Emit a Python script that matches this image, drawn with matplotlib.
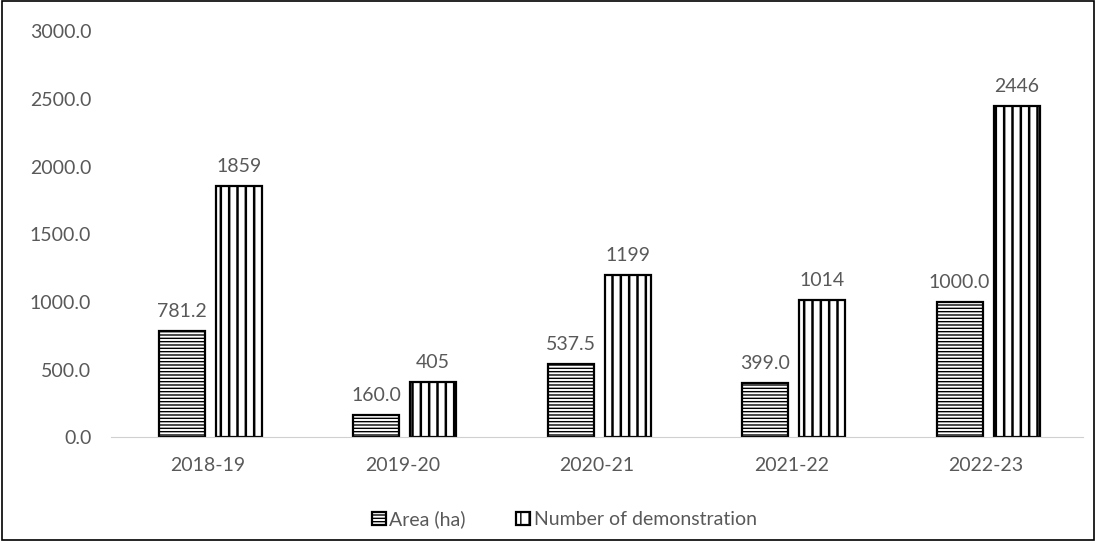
import matplotlib.pyplot as plt
import numpy as np

# Area under demonstrations and number of demonstrations per year
years = ["2018-19", "2019-20", "2020-21", "2021-22", "2022-23"]
area_ha = [781.2, 160.0, 537.5, 399.0, 1000.0]
num_demos = [1859, 405, 1199, 1014, 2446]

plt.rcParams['font.family'] = ['Lato', 'DejaVu Sans']
txt_color = '#595959'
fs = 14

fig = plt.figure(figsize=(10.96, 5.41), dpi=100)
ax = fig.add_axes([0.101, 0.192, 0.887, 0.75])

x = np.arange(len(years))
w = 0.237

with plt.rc_context({'hatch.linewidth': 1.0}):
    b1 = ax.bar(x - 0.134, area_ha, width=w, color='white', edgecolor='black',
                linewidth=1.6, hatch='-----', label='Area (ha)')
with plt.rc_context({'hatch.linewidth': 1.8}):
    b2 = ax.bar(x + 0.159, num_demos, width=w, color='white', edgecolor='black',
                linewidth=1.6, hatch='||', label='Number of demonstration')
for p in b1:
    if hasattr(p, 'set_hatch_linewidth'):
        p.set_hatch_linewidth(1.0)
for p in b2:
    if hasattr(p, 'set_hatch_linewidth'):
        p.set_hatch_linewidth(1.8)

for rect, v in zip(b1, area_ha):
    ax.annotate(f"{v:.1f}", (rect.get_x() + rect.get_width() / 2, v),
                xytext=(0, 8), textcoords='offset points', ha='center',
                va='bottom', fontsize=fs, color=txt_color)
for rect, v in zip(b2, num_demos):
    ax.annotate(f"{v}", (rect.get_x() + rect.get_width() / 2, v),
                xytext=(0, 8), textcoords='offset points', ha='center',
                va='bottom', fontsize=fs, color=txt_color)

ax.set_xlim(-0.5, 4.5)
ax.set_ylim(0, 3000)
ax.set_yticks(np.arange(0, 3001, 500))
ax.set_yticklabels([f"{t:.1f}" for t in np.arange(0, 3001, 500)])
ax.set_xticks(x)
ax.set_xticklabels(years)
ax.tick_params(axis='both', length=0, labelsize=fs, colors=txt_color)
ax.tick_params(axis='y', pad=14)
ax.tick_params(axis='x', pad=14)
for s in ['top', 'right', 'left']:
    ax.spines[s].set_visible(False)
ax.spines['bottom'].set_color('#d0d0d0')

fig.legend(handles=[b1, b2], loc='center', bbox_to_anchor=(0.515, 0.04),
           ncol=2, frameon=False, fontsize=fs, labelcolor=txt_color,
           handlelength=0.7, handleheight=0.7, handletextpad=0.2,
           columnspacing=2.6)

# thin border around the whole figure
fig.patches.append(plt.Rectangle((0.002, 0.002), 0.996, 0.996,
                                 transform=fig.transFigure, fill=False,
                                 edgecolor='black', linewidth=1.2))

fig.savefig("out.png", dpi=100)
